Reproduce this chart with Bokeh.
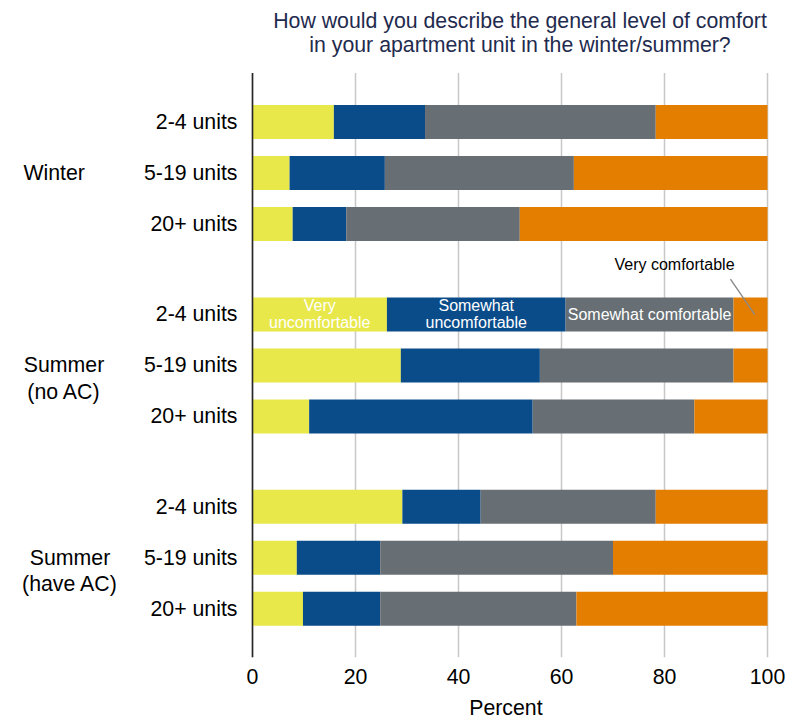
from bokeh.plotting import figure
from bokeh.models import ColumnDataSource, Range1d, FixedTicker, LinearAxis
from bokeh.core.properties import value
from bokeh.embed import file_html
from bokeh.resources import INLINE

# Survey answers: share of respondents (percent) by season group and building size
GROUPS = ["Winter", "Summer\n(no AC)", "Summer\n(have AC)"]
SIZES = ["2-4 units", "5-19 units", "20+ units"]
CATEGORIES = ["Very\nuncomfortable", "Somewhat\nuncomfortable",
              "Somewhat comfortable", "Very comfortable"]

# rows ordered Winter (2-4, 5-19, 20+), Summer no AC (...), Summer have AC (...)
VERY_UNCOMFORTABLE = [15.8, 7.2, 7.8, 26.1, 28.8, 11.0, 29.1, 8.6, 9.8]
SOMEWHAT_UNCOMFORTABLE = [17.7, 18.5, 10.4, 34.7, 27.0, 43.4, 15.2, 16.2, 15.0]
SOMEWHAT_COMFORTABLE = [44.8, 36.7, 33.7, 32.6, 37.6, 31.4, 34.0, 45.2, 38.1]
VERY_COMFORTABLE = [21.7, 37.6, 48.1, 6.6, 6.6, 14.2, 21.7, 30.0, 37.1]

X_TICKS = [0, 20, 40, 60, 80, 100]

TITLE = "How would you describe the general level of comfort\nin your apartment unit in the winter/summer?"
X_LABEL = "Percent"

COLORS = ["#e8e84a", "#0a4c8a", "#676f74", "#e37e00"]
FONT = "Liberation Sans"
BIG = "21.3px"
SMALL = "16px"

# vertical layout: one unit per bar row, extra gap between groups
GAP = 0.773
BAR_H = 0.667
pos = [g * (3 + GAP) + r for g in range(len(GROUPS)) for r in range(len(SIZES))]
row_labels = [s for _ in GROUPS for s in SIZES]

keys = ["vu", "su", "sc", "vc"]
series = [VERY_UNCOMFORTABLE, SOMEWHAT_UNCOMFORTABLE, SOMEWHAT_COMFORTABLE, VERY_COMFORTABLE]
data = dict(pos=pos, label=row_labels)
for k, s in zip(keys, series):
    data[k] = s
src = ColumnDataSource(data)

# the frame also covers the label column on the left and the heading on top
px_per_unit = 5.15
x_start = -252 / px_per_unit
x_end = (770 - 252) / px_per_unit
y_top = pos[0] - 2.382
y_bottom = pos[-1] + 0.955
area_top = pos[0] - 0.96          # upper edge of the bar area

p = figure(width=794, height=723, output_backend="svg", toolbar_location=None,
           title=None, x_range=Range1d(x_start, x_end),
           y_range=Range1d(y_bottom, y_top),
           y_axis_location=None,
           min_border_left=0, min_border_right=24,
           min_border_top=0, min_border_bottom=66)
p.outline_line_color = None
p.background_fill_color = "white"
p.border_fill_color = "white"
p.xgrid.visible = False
p.ygrid.visible = False

# vertical grid lines over the bar area
n = len(X_TICKS)
p.segment(x0=X_TICKS, y0=[area_top] * n, x1=X_TICKS, y1=[y_bottom] * n,
          line_color="#c8c8c8", line_width=1.5)

# stacked bars
p.hbar_stack(keys, y="pos", height=BAR_H, color=COLORS, source=src, line_color=None)

# value axis line at zero
p.segment(x0=[0], y0=[area_top], x1=[0], y1=[y_bottom], line_color="#262626", line_width=1.6)

xa = p.xaxis[0]
xa.ticker = FixedTicker(ticks=X_TICKS)
xa.axis_line_color = None
xa.major_tick_line_color = None
xa.minor_tick_line_color = None
xa.major_label_standoff = 5
xa.major_label_text_font = FONT
xa.major_label_text_font_size = BIG
xa.major_label_text_color = "black"

# axis title, set as a single centred label one row below the tick labels
label_pos = 49.2
title_axis = LinearAxis(ticker=FixedTicker(ticks=[label_pos]),
                        major_label_overrides={label_pos: X_LABEL},
                        axis_line_color=None, major_tick_line_color=None,
                        minor_tick_line_color=None, major_label_standoff=3,
                        major_label_text_font=FONT, major_label_text_font_size=BIG,
                        major_label_text_color="black")
p.add_layout(title_axis, "below")

# row labels
p.text(x=0, y="pos", text="label", source=src, x_offset=-15,
       text_align="right", text_baseline="middle",
       text_font=value(FONT), text_font_size=BIG, text_color="black")

# group labels, first line level with the middle row
group_centers = [53.7, 63.5, 69.5]
for g, name in enumerate(GROUPS):
    n_lines = name.count("\n") + 1
    p.text(x=[0], y=[pos[g * 3 + 1]], text=[name],
           x_offset=group_centers[g] - 252, y_offset=13.3 * (n_lines - 1),
           text_align="center", text_baseline="middle", text_line_height=1.11,
           text_font=value(FONT), text_font_size=BIG, text_color="black")

# category labels on the Summer (no AC), 2-4 units bar
row = 3
vals = [s[row] for s in series]
starts = [sum(vals[:i]) for i in range(len(vals))]
mids = [st + v / 2 for st, v in zip(starts, vals)]
p.text(x=mids[:3], y=[pos[row]] * 3, text=CATEGORIES[:3],
       text_align="center", text_baseline="middle", text_line_height=1.0,
       text_font=value(FONT), text_font_size=SMALL, text_color="white")

# the last category is labelled above the bar with a leader line
p.segment(x0=[mids[3] - 3.9], y0=[pos[row] - 0.69], x1=[mids[3] + 0.8], y1=[pos[row]],
          line_color="#8a8a8a", line_width=1.4)
p.text(x=[mids[3] - 3.1], y=[pos[row] - 0.97], text=[CATEGORIES[3]],
       text_align="right", text_baseline="middle",
       text_font=value(FONT), text_font_size=SMALL, text_color="black")

# two-line heading above the bars
p.text(x=[50], y=[pos[0] - 1.74], text=[TITLE], x_offset=10,
       text_align="center", text_baseline="middle", text_line_height=1.0,
       text_font=value(FONT), text_font_size=BIG, text_color="#1f2b4e")

open("out.html", "w").write(file_html(p, INLINE))
